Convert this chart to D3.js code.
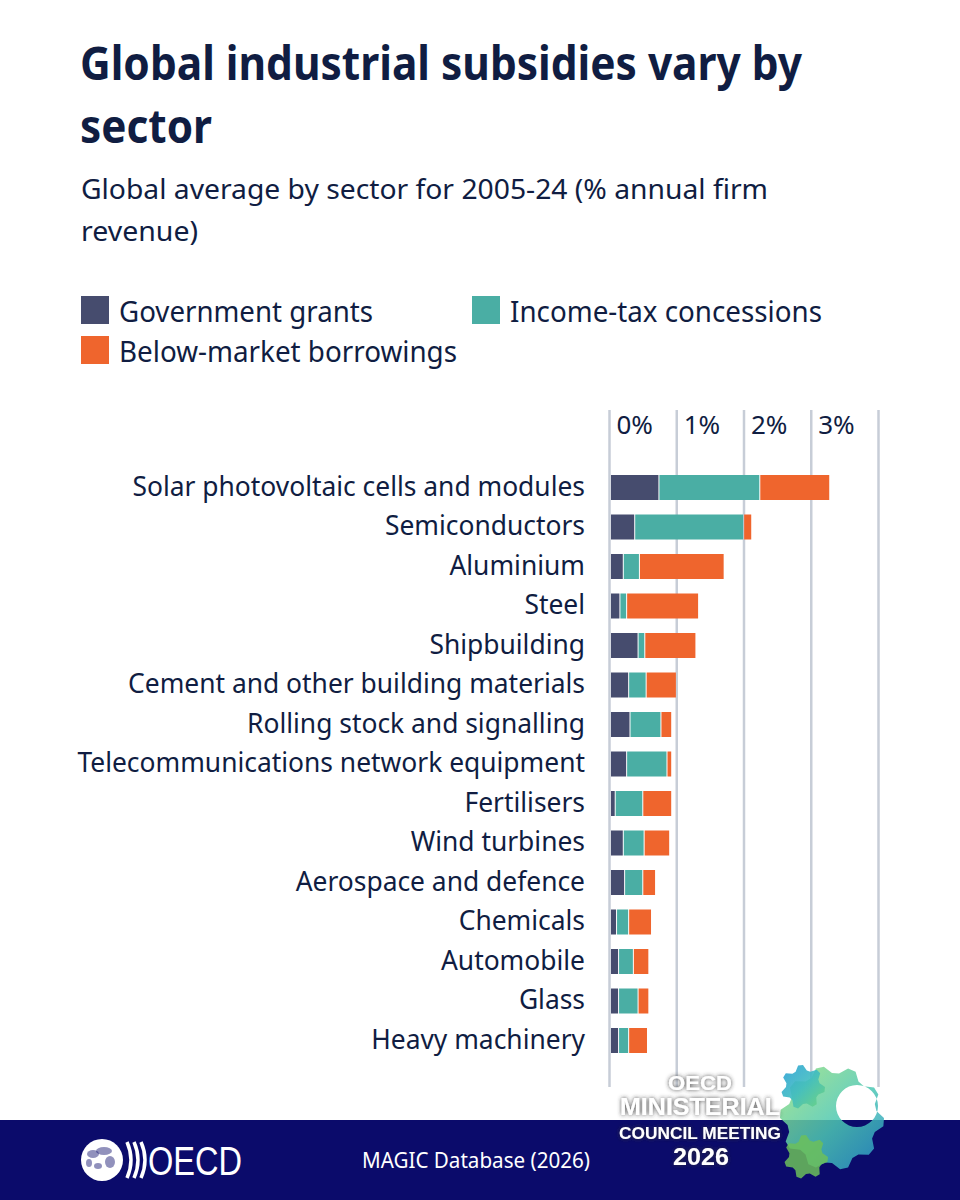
<!DOCTYPE html>
<html>
<head>
<meta charset="utf-8">
<script src="https://cdn.jsdelivr.net/npm/d3@7"></script>
<style>
  html, body { margin: 0; padding: 0; background: #fff; }
  svg { display: block; font-family: "Noto Sans", sans-serif; }
</style>
</head>
<body>
<div class="container"></div>
<script>
// Chart data (% of annual firm revenue)
const categories = [
  "Solar photovoltaic cells and modules", "Semiconductors", "Aluminium", "Steel",
  "Shipbuilding", "Cement and other building materials", "Rolling stock and signalling",
  "Telecommunications network equipment", "Fertilisers", "Wind turbines",
  "Aerospace and defence", "Chemicals", "Automobile", "Glass", "Heavy machinery"
];
const seriesNames = ["Government grants", "Income-tax concessions", "Below-market borrowings"];
const govGrants   = [0.72, 0.36, 0.19, 0.14, 0.41, 0.27, 0.29, 0.24, 0.07, 0.19, 0.21, 0.09, 0.12, 0.12, 0.12];
const incomeTax   = [1.50, 1.62, 0.24, 0.10, 0.10, 0.26, 0.46, 0.60, 0.41, 0.31, 0.27, 0.18, 0.22, 0.29, 0.15];
const belowMarket = [1.04, 0.12, 1.26, 1.07, 0.76, 0.45, 0.16, 0.07, 0.43, 0.38, 0.19, 0.34, 0.23, 0.16, 0.28];
const tickValues = [0, 1, 2, 3, 4];
const tickLabels = ["0%", "1%", "2%", "3%", ""];

const colors = ["#464c6e", "#4aaea4", "#ef652d"];
const ink = "#101d42";

const width = 960, height = 1200;

const svg = d3.select(".container")
  .append("svg")
  .attr("width", width)
  .attr("height", height);

// Title + subtitle
const title = svg.append("g").attr("fill", ink).attr("font-weight", 700).attr("font-size", 46);
title.append("text").attr("x", 80).attr("y", 80)
  .attr("textLength", 722).attr("lengthAdjust", "spacingAndGlyphs")
  .text("Global industrial subsidies vary by");
title.append("text").attr("x", 80).attr("y", 143)
  .attr("textLength", 132).attr("lengthAdjust", "spacingAndGlyphs")
  .text("sector");

const sub = svg.append("g").attr("fill", ink).attr("font-size", 28);
sub.append("text").attr("x", 81).attr("y", 199)
  .attr("textLength", 687).attr("lengthAdjust", "spacingAndGlyphs")
  .text("Global average by sector for 2005-24 (% annual firm");
sub.append("text").attr("x", 81).attr("y", 241)
  .attr("textLength", 117).attr("lengthAdjust", "spacingAndGlyphs")
  .text("revenue)");

// Legend
const legendPos = [[81, 296], [472, 296], [81, 336]];
const legendLen = [254, 312, 338];
const legend = svg.append("g").attr("id", "legend");
seriesNames.forEach((name, i) => {
  const g = legend.append("g").attr("transform", `translate(${legendPos[i][0]},${legendPos[i][1]})`);
  g.append("rect").attr("width", 28).attr("height", 28).attr("fill", colors[i]);
  g.append("text").attr("x", 38).attr("y", 26)
    .attr("font-size", 28.5).attr("fill", ink)
    .attr("textLength", legendLen[i]).attr("lengthAdjust", "spacingAndGlyphs")
    .text(name);
});

// Scales
const x = d3.scaleLinear().domain([0, 4]).range([610, 879]);
const y = d3.scaleBand().domain(categories).range([467.75, 1060.25])
  .paddingInner(0.367).paddingOuter(0.1835);

// Gridlines + tick labels
const axis = svg.append("g")
  .attr("transform", "translate(0,410)")
  .call(d3.axisBottom(x).tickValues(tickValues).tickSize(677)
    .tickFormat((d, i) => tickLabels[i]));
axis.select(".domain").remove();
axis.selectAll(".tick line").attr("stroke", "#c7cdd7").attr("stroke-width", 2.5)
  .attr("transform", "translate(-1,0)");
axis.selectAll(".tick text")
  .attr("y", 24).attr("dy", 0).attr("x", 6)
  .attr("text-anchor", "start")
  .attr("font-family", "Noto Sans")
  .attr("font-size", 26).attr("fill", ink);

// Stacked bars
const table = categories.map((c, i) => ({
  category: c, gov: govGrants[i], tax: incomeTax[i], below: belowMarket[i]
}));
const stacked = d3.stack().keys(["gov", "tax", "below"])(table);

svg.append("g").selectAll("g")
  .data(stacked)
  .join("g")
  .attr("fill", (d, i) => colors[i])
  .selectAll("rect")
  .data(d => d)
  .join("rect")
  .attr("x", d => x(d[0]) + 1)
  .attr("y", d => y(d.data.category))
  .attr("width", d => Math.max(0, x(d[1]) - x(d[0]) - 1))
  .attr("height", y.bandwidth());

// Category labels
svg.append("g").selectAll("text")
  .data(categories)
  .join("text")
  .attr("x", 585)
  .attr("y", d => y(d) + y.bandwidth() / 2 + 8)
  .attr("text-anchor", "end")
  .attr("font-size", 26.4)
  .attr("fill", ink)
  .text(d => d);

// Footer band
const footer = svg.append("g");
footer.append("rect").attr("x", 0).attr("y", 1120).attr("width", width).attr("height", 80)
  .attr("fill", "#0b0b6b");

// OECD logo (globe + chevrons + wordmark)
const logo = footer.append("g").attr("transform", "translate(102,1160)");
logo.append("circle").attr("r", 21).attr("fill", "#fff");
const blobs = [[-9, -6, 6, 4], [2, -9, 8, 4], [8, 2, 5, 6], [-4, 6, 4, 3], [-13, 3, 3, 4]];
blobs.forEach(b => logo.append("ellipse").attr("cx", b[0]).attr("cy", b[1])
  .attr("rx", b[2]).attr("ry", b[3]).attr("fill", "#0b0b6b").attr("opacity", 0.45));
[0, 7, 14].forEach(dx => logo.append("path")
  .attr("d", `M${25 + dx},-18 Q${33 + dx},0 ${25 + dx},18`)
  .attr("fill", "none").attr("stroke", "#fff").attr("stroke-width", 3.5));
footer.append("text").attr("x", 148).attr("y", 1175)
  .attr("font-family", "Liberation Sans, Arial, sans-serif")
  .attr("font-size", 40).attr("fill", "#fff")
  .attr("textLength", 94).attr("lengthAdjust", "spacingAndGlyphs")
  .text("OECD");

footer.append("text").attr("x", 362).attr("y", 1168)
  .attr("font-size", 21).attr("fill", "#fff")
  .attr("textLength", 228).attr("lengthAdjust", "spacingAndGlyphs")
  .text("MAGIC Database (2026)");

// Ministerial Council Meeting badge
const defs = svg.append("defs");
const grad = defs.append("linearGradient").attr("id", "gearGrad")
  .attr("x1", "0%").attr("y1", "0%").attr("x2", "100%").attr("y2", "100%");
grad.append("stop").attr("offset", "0%").attr("stop-color", "#2a9fd8");
grad.append("stop").attr("offset", "50%").attr("stop-color", "#3fbcc0");
grad.append("stop").attr("offset", "100%").attr("stop-color", "#6fd47a");
const grad2 = defs.append("linearGradient").attr("id", "gearGrad2")
  .attr("x1", "0%").attr("y1", "0%").attr("x2", "100%").attr("y2", "100%");
grad2.append("stop").attr("offset", "0%").attr("stop-color", "#98e07c");
grad2.append("stop").attr("offset", "55%").attr("stop-color", "#4cc7b4");
grad2.append("stop").attr("offset", "100%").attr("stop-color", "#2a94c8");
const shadow = defs.append("filter").attr("id", "glow")
  .attr("x", "-20%").attr("y", "-40%").attr("width", "140%").attr("height", "180%");
shadow.append("feDropShadow").attr("dx", 0).attr("dy", 0).attr("stdDeviation", 2)
  .attr("flood-color", "#333").attr("flood-opacity", 0.9);

function gearPath(cx, cy, r, teeth, depth) {
  const pts = [];
  const n = teeth * 4;
  for (let k = 0; k < n; k++) {
    const a = (k / n) * 2 * Math.PI;
    const rr = (k % 4 < 2) ? r : r - depth;
    pts.push([cx + rr * Math.cos(a), cy + rr * Math.sin(a)]);
  }
  return "M" + pts.map(p => p.join(",")).join("L") + "Z";
}

const badge = svg.append("g");
badge.append("path")
  .attr("d", gearPath(832, 1118, 52, 10, 7) +
    ` M${857 + 21},1106 A21,21 0 1,0 ${857 - 21},1106 A21,21 0 1,0 ${857 + 21},1106 Z`)
  .attr("fill", "url(#gearGrad2)").attr("fill-rule", "evenodd").attr("opacity", 0.85);
badge.append("path")
  .attr("d", gearPath(803, 1087, 22, 7, 5))
  .attr("fill", "url(#gearGrad)").attr("opacity", 0.9);
badge.append("path")
  .attr("d", gearPath(806, 1157, 22, 7, 5))
  .attr("fill", "#6cc05a").attr("opacity", 0.85);

// badge lines are packed tightly, as in the reference
const badgeText = badge.append("g").attr("fill", "#fff").attr("font-weight", 700)
  .attr("font-family", "Liberation Sans, Arial, sans-serif")
  .attr("text-anchor", "middle").attr("filter", "url(#glow)");
badgeText.append("text").attr("x", 700).attr("y", 1090).attr("font-size", 21)
  .attr("textLength", 64).attr("lengthAdjust", "spacingAndGlyphs").text("OECD");
badgeText.append("text").attr("x", 700).attr("y", 1115).attr("font-size", 23)
  .attr("textLength", 160).attr("lengthAdjust", "spacingAndGlyphs").text("MINISTERIAL");
badgeText.append("text").attr("x", 700).attr("y", 1139).attr("font-size", 17)
  .attr("textLength", 162).attr("lengthAdjust", "spacingAndGlyphs").text("COUNCIL MEETING");
badgeText.append("text").attr("x", 701).attr("y", 1165).attr("font-size", 23)
  .attr("textLength", 56).attr("lengthAdjust", "spacingAndGlyphs").text("2026");
</script>
</body>
</html>
